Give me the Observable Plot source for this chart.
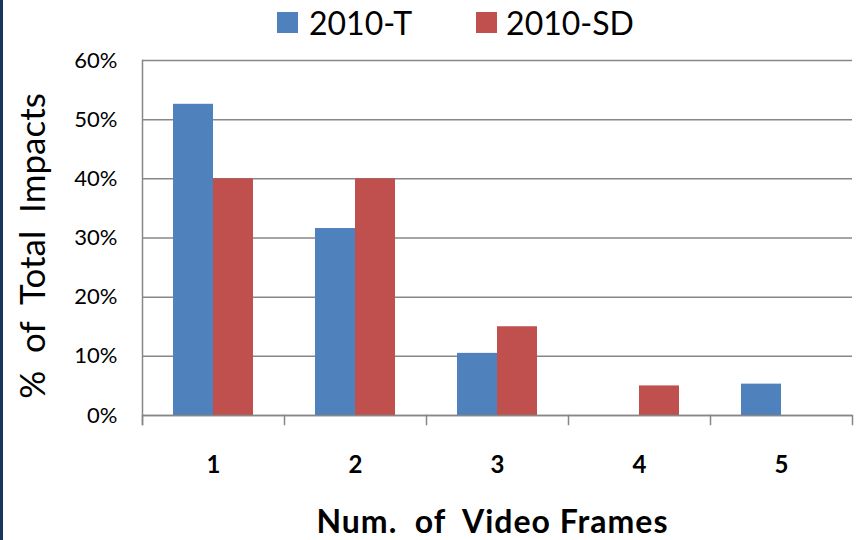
<!DOCTYPE html>
<html><head><meta charset="utf-8">
<script src="https://cdn.jsdelivr.net/npm/d3@7"></script>
<script src="https://cdn.jsdelivr.net/npm/@observablehq/plot@0.6"></script>
<style>
body{margin:0;background:#fff;font-family:Lato,sans-serif;}
#wrap{position:relative;width:864px;height:540px;overflow:hidden;background:#fff;}
#edge{position:absolute;left:0;top:0;width:3px;height:540px;background:#17365D;}
#legend{height:44px;display:flex;align-items:center;padding-left:277px;box-sizing:border-box;font-family:Lato,sans-serif;font-size:32px;color:#000;}
#legend .sw{width:21px;height:21px;display:inline-block;}
#legend .item{display:flex;align-items:center;}
#chart{height:456px;}
#xtitle{height:40px;line-height:40px;padding:1px 10px 0 131px;box-sizing:border-box;text-align:center;font-family:Lato,sans-serif;font-weight:bold;font-size:32px;letter-spacing:1px;color:#000;white-space:pre;}
svg text{white-space:pre;}
</style>
</head><body>
<div id="wrap"><div id="edge"></div><div id="legend"></div><div id="chart"></div><div id="xtitle"></div></div>
<script>
const categories = ["1","2","3","4","5"];
const series = ["2010-T","2010-SD"];
const valuesT = [52.6, 31.6, 10.5, 0, 5.3];
const valuesSD = [40, 40, 15, 5, 0];
const colors = ["#4F81BD","#C0504D"];
const yTicks = [0,10,20,30,40,50,60];
const xTitle = "Num.  of  Video Frames";
const yTitle = "%  of  Total  Impacts";

const data = categories.flatMap((c,i)=>[
  {cat:c, series:series[0], value:valuesT[i]},
  {cat:c, series:series[1], value:valuesSD[i]}
]);

// legend
const lg = document.getElementById("legend");
series.forEach((s,i)=>{
  const it = document.createElement("div");
  it.className="item";
  it.style.marginRight = i===0 ? "64px" : "0";
  const sw = document.createElement("span");
  sw.className="sw"; sw.style.background = colors[i];
  sw.style.marginRight = i===0 ? "11px" : "9px";
  const t = document.createElement("span"); t.textContent = s;
  it.appendChild(sw); it.appendChild(t); lg.appendChild(it);
});
document.getElementById("xtitle").textContent = xTitle;

const axisColor = "#878787";
const plotH = 355;
const chart = Plot.plot({
  width: 864, height: 456,
  marginTop: 16, marginLeft: 140, marginRight: 10, marginBottom: 85,
  style: {fontFamily: "Lato, sans-serif", color: "#000", background: "transparent", overflow: "visible"},
  fx: {domain: categories, paddingInner: 0, paddingOuter: 0, label: null},
  x: {domain: series, paddingInner: 0, paddingOuter: 0.755, axis: null},
  y: {domain: [0, 60], ticks: yTicks, label: null},
  color: {domain: series, range: colors},
  marks: [
    Plot.gridY(yTicks, {stroke: axisColor, strokeOpacity: 1, strokeWidth: 1.5}),
    Plot.barY(data, {fx: "cat", x: "series", y: "value", fill: "series"}),
    Plot.ruleY([0], {stroke: axisColor, strokeWidth: 1.5}),
    Plot.frame({anchor: "left", facetAnchor: "left", stroke: axisColor, strokeWidth: 1.5, insetBottom: -9}),
    Plot.frame({anchor: "left", stroke: axisColor, strokeWidth: 1.5, insetTop: plotH, insetBottom: -9}),
    Plot.frame({anchor: "right", facetAnchor: "right", stroke: axisColor, strokeWidth: 1.5, insetTop: plotH, insetBottom: -9}),
    Plot.axisY(yTicks, {tickFormat: d => d + "%", tickSize: 0, tickPadding: 25, fontSize: 22, label: null}),
    Plot.axisY([], {label: yTitle, labelArrow: "none", labelAnchor: "center", labelOffset: 122, fontSize: 35, tickSize: 0}),
    Plot.axisFx({anchor: "bottom", tickSize: 0, tickPadding: 40, fontSize: 24, fontWeight: "bold", label: null})
  ]
});
// nudge y title to match reference
d3.select(chart).selectAll("text").each(function(){
  const t = this.textContent || "";
  if (t.includes("Impacts")) {
    this.style.setProperty("font-size", "35px", "important");
    const tr = this.getAttribute("transform") || "";
    this.setAttribute("transform", "translate(0,8) " + tr);
  }
});
document.getElementById("chart").appendChild(chart);
</script>
</body></html>
